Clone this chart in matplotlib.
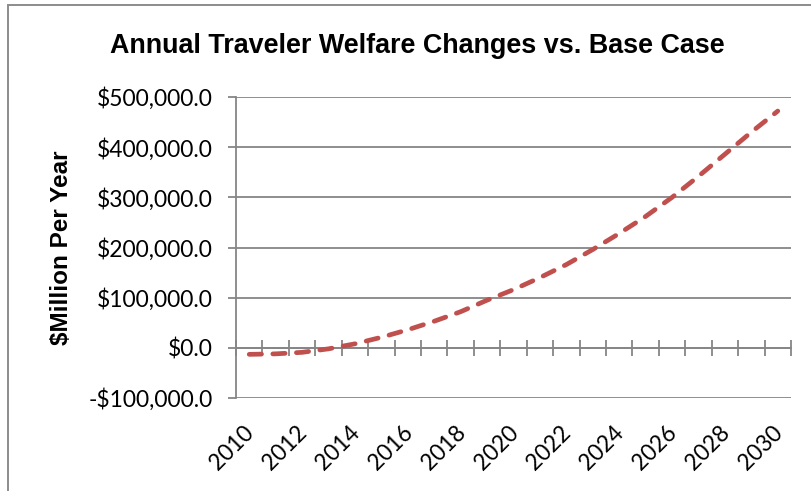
import matplotlib
matplotlib.use("Agg")
import matplotlib.pyplot as plt
import matplotlib.patches as mpatches
import matplotlib.transforms as mtransforms
from matplotlib.ticker import FuncFormatter

years = list(range(2010, 2031))
welfare = [-13000, -12000, -9000, -2000, 8000, 21000, 36000, 53000, 72000, 95000,
           116000, 140000, 166000, 196000, 228000, 262000, 300000, 342000, 386000, 430000, 472000]
yticks = [-100000, 0, 100000, 200000, 300000, 400000, 500000]
label_years = years[::2]

GRID = "#868686"
RED = "#C0504D"
TICKFONT = ["Lato", "DejaVu Sans"]
BOLDFONT = ["Liberation Sans", "DejaVu Sans"]

fig = plt.figure(figsize=(8.12, 4.91), dpi=100)
ax = fig.add_axes([236 / 812, 1 - 398 / 491, 555 / 812, 301 / 491])

# chart frame (runs off the right and bottom of the picture)
fig.patches.append(mpatches.Rectangle((8 / 812, -0.1), 1.2, 1.1 - 5 / 491, transform=fig.transFigure,
                                      fill=False, ec="#8c8c8c", lw=1.4))

x = list(range(len(years)))
ax.plot(x, welfare, color=RED, lw=3.4, dashes=(2.6, 2.4), dash_capstyle="round", zorder=4)

ax.set_xlim(-0.5, len(years) - 0.5)
ax.set_ylim(yticks[0], yticks[-1])
ax.set_yticks(yticks)
ax.yaxis.set_major_formatter(FuncFormatter(lambda v, p: f"-${abs(v):,.1f}" if v < 0 else f"${v:,.1f}"))
ax.grid(axis="y", color=GRID, lw=1.3)
ax.set_axisbelow(True)
for s in ["top", "right", "bottom"]:
    ax.spines[s].set_visible(False)
ax.spines["left"].set_color(GRID)
ax.spines["left"].set_linewidth(1.3)
ax.tick_params(axis="y", colors=GRID, length=6, width=1.3, labelcolor="black", labelsize=16.5, pad=11)

# category labels below the plot
ax.set_xticks([years.index(y) for y in label_years])
ax.set_xticklabels([str(y) for y in label_years], rotation=45, ha="right", va="top",
                   rotation_mode="anchor", fontsize=16.3)
ax.tick_params(axis="x", length=0, pad=17)
shift = mtransforms.ScaledTranslation(-6 / 100, 0, fig.dpi_scale_trans)
for lab in ax.get_xticklabels():
    lab.set_transform(lab.get_transform() + shift)

# horizontal axis crossing at zero, tick marks between categories
sec = ax.secondary_xaxis((0 - yticks[0]) / (yticks[-1] - yticks[0]))
sec.set_xticks([i - 0.5 for i in range(len(years) + 1)])
sec.set_xticklabels([])
sec.tick_params(direction="inout", length=11, width=1.3, color=GRID)
sec.spines["bottom"].set_color(GRID)
sec.spines["bottom"].set_linewidth(1.3)
for s in ["top", "left", "right"]:
    sec.spines[s].set_visible(False)

for lab in ax.get_xticklabels() + ax.get_yticklabels():
    lab.set_family(TICKFONT)

ax.set_ylabel("$Million Per Year", fontsize=17.5, fontweight="bold", family=BOLDFONT, labelpad=11)
fig.text(0.5 * (108 + 727) / 812, 1 - 46 / 491, "Annual Traveler Welfare Changes vs. Base Case",
         ha="center", va="center", fontsize=19.4, fontweight="bold", family=BOLDFONT)

fig.savefig("out.png", dpi=100)
